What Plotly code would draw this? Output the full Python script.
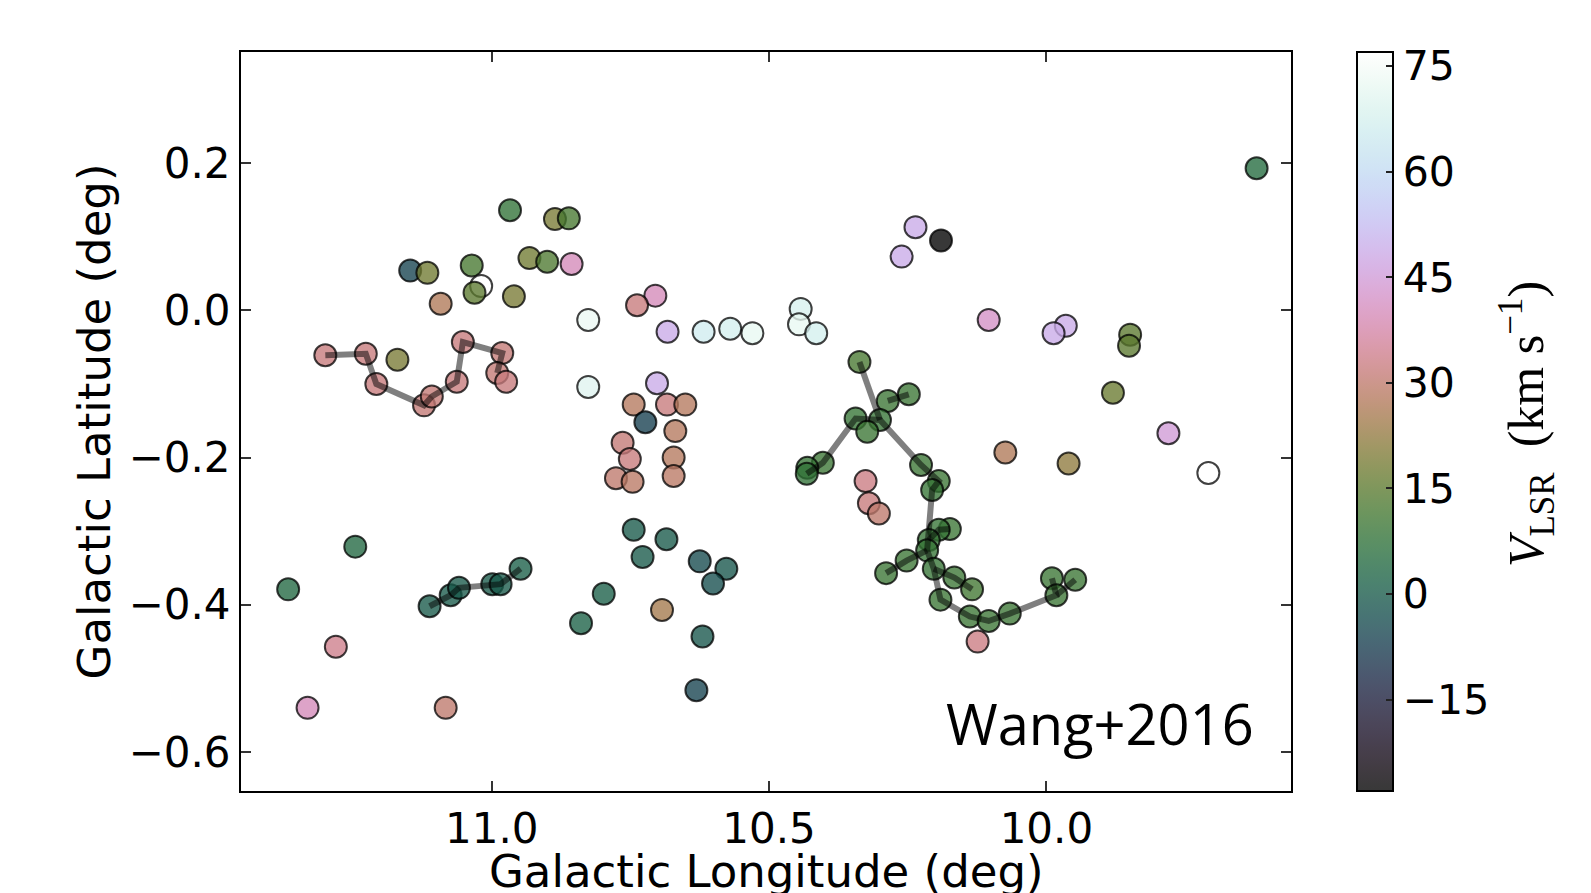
import numpy as np
import plotly.graph_objects as go

# ---------------- data ----------------
# isolated clumps: Galactic longitude (deg), latitude (deg), V_LSR (km/s)
field_lon = [11.147, 11.116, 11.092, 11.036, 11.019, 11.031, 10.960, 10.967, 10.886, 10.861,
             10.932, 10.900, 10.856, 10.826, 10.826, 11.170,
             11.367, 11.246, 11.281, 11.332, 11.083,
             10.705, 10.738, 10.683, 10.618, 10.570, 10.530, 10.443, 10.446, 10.415, 10.702,
             10.744, 10.684, 10.651, 10.723, 10.669, 10.764, 10.751, 10.672, 10.776, 10.746,
             10.672, 10.744, 10.685, 10.728, 10.625, 10.577, 10.601, 10.798, 10.839, 10.693,
             10.620, 10.631,
             10.236, 10.190, 10.261, 10.104, 9.965, 9.987, 9.849, 9.851, 9.880, 10.074,
             9.960, 9.780, 9.708, 9.621, 10.326, 10.320, 10.302, 10.124]
field_lat = [0.054, 0.051, 0.009, 0.061, 0.033, 0.024, 0.019, 0.136, 0.124, 0.125,
             0.071, 0.066, 0.063, -0.013, -0.104, -0.067,
             -0.379, -0.321, -0.457, -0.540, -0.540,
             0.020, 0.007, -0.029, -0.029, -0.025, -0.031, 0.002, -0.019, -0.031, -0.099,
             -0.128, -0.128, -0.128, -0.152, -0.164, -0.180, -0.202, -0.200, -0.228, -0.233,
             -0.225, -0.298, -0.311, -0.335, -0.341, -0.351, -0.371, -0.385, -0.425, -0.407,
             -0.443, -0.516,
             0.113, 0.095, 0.073, -0.013, -0.021, -0.031, -0.033, -0.048, -0.112, -0.193,
             -0.208, -0.167, -0.221, 0.193, -0.232, -0.262, -0.276, -0.450]
field_v = [-6, 18, 27, 12, 77, 15, 19, 8, 19, 12,
           18, 13, 40, 73, 70, 19,
           4, 4, 34, 40, 30,
           40, 32, 49, 66, 67, 72, 68, 72, 67, 49,
           28, 32, 28, -7, 28, 31, 32, 28, 30, 29,
           29, 0, 0, 0, -4, -1, -3, 1, 2, 25,
           -1, -6,
           49, -28, 49, 42, 49, 49, 15, 15, 17, 27,
           22, 45, 77, 5, 33, 32, 30, 33]

# chain of clumps near l = 11.1 (pink)
pink_lon = [11.300, 11.227, 11.208, 11.122, 11.108, 11.063, 11.052, 10.981, 10.990, 10.974]
pink_lat = [-0.061, -0.059, -0.100, -0.129, -0.117, -0.097, -0.043, -0.058, -0.085, -0.097]
pink_v = [32, 32, 32, 31, 31, 32, 32, 31, 31, 32]
pink_paths = [[0, 1, 2, 3, 4, 5, 6, 7, 8]]

# chain of clumps near l = 11.05, b = -0.38 (teal)
teal_lon = [11.112, 11.074, 11.059, 10.999, 10.984, 10.948]
teal_lat = [-0.402, -0.387, -0.377, -0.372, -0.372, -0.351]
teal_v = [0, 0, 0, 0, 0, 1]
teal_paths = [[0, 1, 2, 3, 4, 5]]

# filament near l = 10.2 (green)
green_lon = [10.337, 10.248, 10.286, 10.344, 10.300, 10.323, 10.403, 10.431, 10.432, 10.226,
             10.194, 10.206, 10.174, 10.194, 10.212, 10.215, 10.252, 10.289, 10.203, 10.166,
             10.134, 10.191, 10.138, 10.104, 10.066, 9.990, 9.948, 9.982]
green_lat = [-0.070, -0.114, -0.123, -0.147, -0.149, -0.165, -0.207, -0.214, -0.222, -0.210,
             -0.232, -0.244, -0.297, -0.298, -0.312, -0.326, -0.340, -0.357, -0.351, -0.363,
             -0.379, -0.393, -0.416, -0.422, -0.412, -0.364, -0.366, -0.387]
green_v = [12, 10, 10, 9, 9, 10, 10, 9, 8, 10,
           10, 9, 10, 9, 9, 9, 10, 10, 9, 10,
           11, 10, 10, 10, 10, 10, 10, 10]
green_paths = [[0, 4],
               [8, 6, 3, 4, 9, 10, 11, 14, 15, 18, 21, 22, 23, 24, 27, 25],
               [27, 26], [2, 1], [15, 16, 17], [18, 19, 20], [14, 13, 12]]

x_ticks = [11.0, 10.5, 10.0]
y_ticks = [0.2, 0.0, -0.2, -0.4, -0.6]
cbar_ticks = [-15, 0, 15, 30, 45, 60, 75]
v_min, v_max = -28, 77

# ---------------- cubehelix colormap (matplotlib definition) ----------------
def cubehelix(x, gamma=1.0, s=0.5, r=-1.5, h=1.0):
    xg = x ** gamma
    a = h * xg * (1 - xg) / 2
    phi = 2 * np.pi * (s / 3 + r * x)
    red = xg + a * (-0.14861 * np.cos(phi) + 1.78277 * np.sin(phi))
    grn = xg + a * (-0.29227 * np.cos(phi) - 0.90649 * np.sin(phi))
    blu = xg + a * (1.97294 * np.cos(phi))
    return np.clip(np.stack([red, grn, blu], axis=-1), 0, 1)

alpha = 0.78
stops = np.linspace(0, 1, 65)
cols = cubehelix(stops)
colorscale = [[float(t), "rgba(%d,%d,%d,%.2f)" % (c[0] * 255, c[1] * 255, c[2] * 255, alpha)]
              for t, c in zip(stops, cols)]

all_lon = field_lon + pink_lon + teal_lon + green_lon
all_lat = field_lat + pink_lat + teal_lat + green_lat
all_v = field_v + pink_v + teal_v + green_v

fig = go.Figure()

fig.add_trace(go.Scatter(
    x=all_lon, y=all_lat, mode="markers", hoverinfo="skip",
    marker=dict(size=22, color=all_v, colorscale=colorscale, cmin=v_min, cmax=v_max,
                line=dict(width=2, color="rgba(0,0,0,0.75)"),
                showscale=True,
                colorbar=dict(
                    x=1.0627, xanchor="left", xref="paper", y=0.5, yanchor="middle",
                    len=1, lenmode="fraction", thickness=36, thicknessmode="pixels",
                    xpad=0, ypad=0, outlinewidth=2, outlinecolor="black",
                    ticks="inside", ticklen=8, tickwidth=1.5, tickcolor="#222",
                    tickvals=cbar_ticks,
                    tickfont=dict(family="DejaVu Sans", size=41, color="black"),
                ))))

# filament skeleton lines, drawn over the markers
for lons, lats, paths in [(pink_lon, pink_lat, pink_paths),
                          (teal_lon, teal_lat, teal_paths),
                          (green_lon, green_lat, green_paths)]:
    xs, ys = [], []
    for p in paths:
        xs += [lons[i] for i in p] + [None]
        ys += [lats[i] for i in p] + [None]
    fig.add_trace(go.Scatter(x=xs, y=ys, mode="lines", hoverinfo="skip",
                             line=dict(color="rgba(0,0,0,0.5)", width=6)))

tickfont = dict(family="DejaVu Sans", size=42, color="black")
titlefont = dict(family="DejaVu Sans", size=45, color="black")

fig.update_xaxes(range=[11.452, 9.559], tickvals=x_ticks, tickformat=".1f",
                 ticks="inside", ticklen=10, tickwidth=1.5, tickcolor="#333",
                 showline=True, linecolor="black", linewidth=2, mirror="ticks",
                 showgrid=False, zeroline=False, automargin=False, tickfont=tickfont)
fig.update_yaxes(range=[-0.653, 0.351], tickvals=y_ticks, tickformat=".1f",
                 ticks="inside", ticklen=10, tickwidth=1.5, tickcolor="#333",
                 showline=True, linecolor="black", linewidth=2, mirror="ticks",
                 showgrid=False, zeroline=False, automargin=False, tickfont=tickfont,
                 title=dict(text="Galactic Latitude (deg)", font=titlefont, standoff=4))

# x-axis title (placed as an annotation so it can sit low, partly cut by the page edge)
fig.add_annotation(x=0.5, y=-0.109, xref="paper", yref="paper", xanchor="center",
                   yanchor="middle", showarrow=False, text="Galactic Longitude (deg)",
                   font=titlefont)

fig.add_annotation(x=9.622, y=-0.5607, xref="x", yref="y", xanchor="right", yanchor="middle",
                   text="Wang+2016", showarrow=False,
                   font=dict(family="Open Sans", size=56, color="black"))

# colour-bar label (rotated), placed to the right of the colour-bar tick labels
fig.add_annotation(x=1.225, y=0.4968, xref="paper", yref="paper", xanchor="center",
                   yanchor="middle", textangle=-90, showarrow=False,
                   text="<i>V</i><sub>LSR</sub>  (km s<sup>−1</sup>)",
                   font=dict(family="Liberation Serif", size=50, color="black"))

fig.update_layout(template="none", width=1591, height=893, showlegend=False,
                  margin=dict(l=240.5, r=300.3, t=51.7, b=101.5, autoexpand=False),
                  plot_bgcolor="white", paper_bgcolor="white")

fig.write_html("out.html")
